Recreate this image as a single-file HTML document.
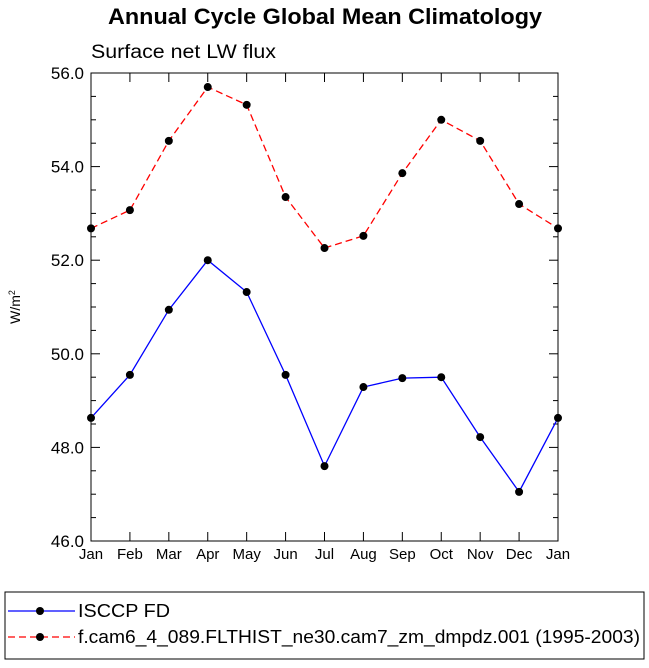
<!DOCTYPE html>
<html><head><meta charset="utf-8"><style>
body{margin:0;background:#fff;}
svg text{font-family:"Liberation Sans",Arial,sans-serif;}
</style></head><body>
<svg id="chart" width="649" height="663" xmlns="http://www.w3.org/2000/svg">
<text x="108" y="24" font-size="22" font-weight="bold" textLength="434" lengthAdjust="spacingAndGlyphs">Annual Cycle Global Mean Climatology</text>
<text x="91" y="58" font-size="19" textLength="185" lengthAdjust="spacingAndGlyphs">Surface net LW flux</text>
<text transform="translate(20,307) rotate(-90)" text-anchor="middle" font-size="14">W/m<tspan font-size="9" dy="-5">2</tspan></text>
<rect x="91" y="73" width="467" height="468" fill="none" stroke="#000" stroke-width="1"/>
<g id="axes"></g>
<g id="series"></g>
<rect x="5" y="592" width="639" height="67" fill="#fff" stroke="#000" stroke-width="1"/>
<g>
<line x1="8" y1="611" x2="75" y2="611" stroke="#0000ff" stroke-width="1.3"/>
<circle cx="40" cy="611" r="4" fill="#000"/>
<text x="78" y="617" font-size="18" textLength="92" lengthAdjust="spacingAndGlyphs">ISCCP FD</text>
</g>
<g>
<line x1="8" y1="637" x2="75" y2="637" stroke="#ff0000" stroke-width="1.3" stroke-dasharray="7,4"/>
<circle cx="40" cy="637" r="4" fill="#000"/>
<text x="78" y="643" font-size="18" textLength="562" lengthAdjust="spacingAndGlyphs">f.cam6_4_089.FLTHIST_ne30.cam7_zm_dmpdz.001 (1995-2003)</text>
</g>
</svg>
<script>
const months=["Jan","Feb","Mar","Apr","May","Jun","Jul","Aug","Sep","Oct","Nov","Dec","Jan"];
const yTicks=[46,48,50,52,54,56];
const yTickLabels=["46.0","48.0","50.0","52.0","54.0","56.0"];
const obsValues=[48.63,49.55,50.94,52.0,51.32,49.55,47.6,49.29,49.48,49.5,48.22,47.05,48.63];
const modelValues=[52.68,53.07,54.55,55.70,55.32,53.35,52.26,52.52,53.86,55.0,54.55,53.2,52.68];
const NS="http://www.w3.org/2000/svg";
const X0=91,X1=558,Y0=541,Y1=73,YMIN=46,YMAX=56;
function xs(i){return X0+(X1-X0)*i/(months.length-1);}
function ys(v){return Y0-(v-YMIN)/(YMAX-YMIN)*(Y0-Y1);}
function mk(tag,a,p){const e=document.createElementNS(NS,tag);for(const k in a)e.setAttribute(k,a[k]);p.appendChild(e);return e;}
const ax=document.getElementById('axes');
for(let v=YMIN;v<=YMAX+1e-9;v+=0.5){
 const major=Math.abs(v-Math.round(v/2)*2)<1e-6;const L=major?9:5;const y=ys(v);
 const t1=mk('line',{x1:X0,x2:X0+L,y1:y,y2:y,stroke:'#000'},ax);
 
 
 const t2=mk('line',{x1:X1,x2:X1-L,y1:y,y2:y,stroke:'#000'},ax);
 
 
}
yTicks.forEach((v,i)=>{
 const t=mk('text',{x:84,y:ys(v)+6,'text-anchor':'end','font-size':'17'},ax);t.textContent=yTickLabels[i];
 
 
});
months.forEach((m,i)=>{
 const x=xs(i);
 const a=mk('line',{x1:x,x2:x,y1:Y0,y2:Y0-9,stroke:'#000'},ax);
 
 
 const b=mk('line',{x1:x,x2:x,y1:Y1,y2:Y1+9,stroke:'#000'},ax);
 
 
 const t=mk('text',{x:x,y:559,'text-anchor':'middle','font-size':'15'},ax);t.textContent=m;
 
 
});
const sg=document.getElementById('series');
function drawSeries(vals,color,dash,name){
 const p=mk('polyline',{points:vals.map((v,i)=>xs(i)+','+ys(v)).join(' '),fill:'none',stroke:color,'stroke-width':'1.3','stroke-dasharray':dash},sg);
 
 
 vals.forEach((v,i)=>{
  const c=mk('circle',{cx:xs(i),cy:ys(v),r:4,fill:'#000'},sg);
  
  
 });
}
drawSeries(modelValues,'#ff0000','7,4','model');
drawSeries(obsValues,'#0000ff','none','isccp');
</script>
</body></html>
